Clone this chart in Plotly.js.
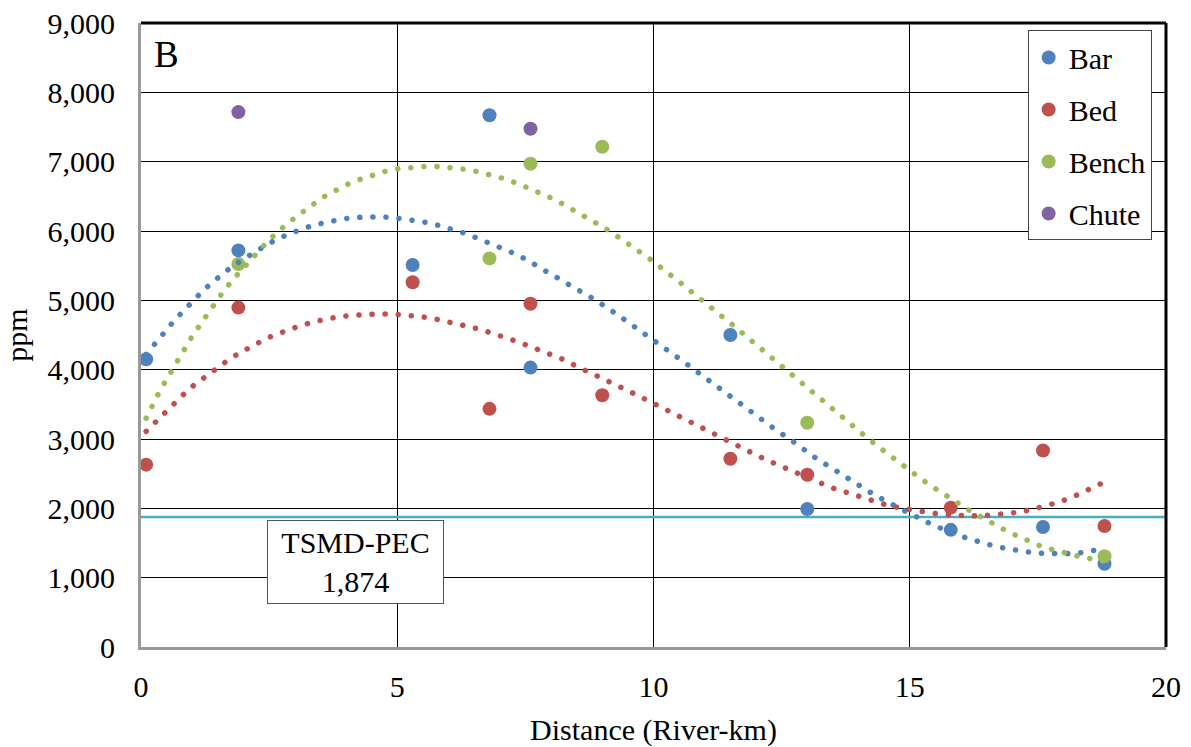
<!DOCTYPE html>
<html><head><meta charset="utf-8">
<script src="https://cdn.plot.ly/plotly-3.0.1.min.js"></script>
<style>html,body{margin:0;padding:0;background:#fff}#chart{width:1191px;height:747px}
.scatterlayer .trace .js-line{stroke-linecap:round}</style>
</head><body><div id="chart"></div><script>
// ---- data ----
const distBar = [0.1, 1.9, 5.3, 6.8, 7.6, 11.5, 13.0, 15.8, 17.6, 18.8];
const ppmBar  = [4150, 5720, 5510, 7670, 4030, 4500, 1990, 1690, 1730, 1200];

const distBed = [0.1, 1.9, 5.3, 6.8, 7.6, 9.0, 11.5, 13.0, 15.8, 17.6, 18.8];
const ppmBed  = [2630, 4895, 5260, 3435, 4950, 3630, 2715, 2485, 2010, 2835, 1745];

const distBench = [1.9, 6.8, 7.6, 9.0, 13.0, 18.8];
const ppmBench  = [5525, 5605, 6970, 7215, 3235, 1310];

const distChute = [1.9, 7.6];
const ppmChute  = [7715, 7475];

// dotted polynomial trendlines
const trendBarX = [0.1,0.26,0.43,0.60,0.78,0.96,1.15,1.34,1.55,1.75,1.98,2.20,2.43,2.65,2.90,3.15,3.40,3.66,3.92,4.18,4.45,4.71,4.98,5.24,5.50,5.76,6.02,6.27,6.51,6.77,7.01,7.25,7.49,7.72,7.95,8.18,8.41,8.86,9.30,9.74,10.17,10.60,11.02,11.45,11.87,12.30,12.74,13.17,13.62,13.84,14.29,14.76,15.24,15.46,15.97,16.22,16.47,16.73,16.99,17.25,17.52,17.78,18.04,18.31,18.57,18.8];
const trendBarY = [4220,4368,4517,4665,4810,4954,5094,5228,5354,5473,5584,5695,5791,5883,5960,6032,6089,6133,6172,6195,6205,6205,6186,6166,6133,6090,6042,5979,5912,5840,5768,5686,5599,5502,5411,5310,5209,5007,4791,4564,4333,4108,3877,3636,3410,3179,2954,2723,2515,2410,2203,2016,1833,1756,1606,1544,1491,1443,1404,1375,1352,1342,1346,1356,1385,1420];

const trendBedX = [0.1,0.46,0.65,0.84,1.04,1.25,1.46,1.68,1.90,2.13,2.37,2.61,2.86,3.10,3.36,3.62,3.88,4.14,4.40,4.67,4.94,5.21,5.46,5.73,5.99,6.25,6.50,6.75,7.01,7.26,7.51,7.76,8.00,8.25,8.48,8.73,8.97,9.20,9.44,9.68,9.91,10.15,10.39,10.63,10.86,11.10,11.34,11.57,11.82,12.05,12.29,12.54,12.78,13.27,13.51,13.76,14.01,14.27,14.53,14.78,15.04,15.30,15.56,15.83,16.10,16.36,16.63,16.88,17.15,17.41,17.67,17.92,18.17,18.41,18.65,18.8];
const trendBedY = [3110,3381,3516,3651,3781,3900,4016,4127,4232,4333,4420,4502,4574,4632,4690,4729,4766,4786,4801,4805,4801,4786,4766,4733,4694,4656,4603,4550,4492,4426,4358,4286,4214,4145,4055,3973,3892,3805,3719,3632,3545,3453,3362,3276,3185,3098,3012,2919,2833,2752,2670,2587,2506,2362,2290,2227,2165,2111,2053,2010,1973,1944,1917,1900,1892,1890,1905,1924,1948,1987,2035,2092,2160,2241,2328,2380];

const trendBenchX = [0.1,0.22,0.34,0.47,0.60,0.74,0.88,1.01,1.16,1.31,1.47,1.62,1.79,1.96,2.14,2.32,2.50,2.70,2.90,3.54,3.77,4.01,4.25,4.50,4.76,5.02,5.28,5.55,5.81,6.07,6.34,6.60,6.86,7.11,7.36,7.61,7.85,8.09,8.32,8.55,8.78,9.01,9.23,9.45,9.66,9.89,10.52,10.73,10.93,11.14,11.34,11.55,11.75,11.95,12.15,12.36,12.56,12.76,12.96,13.17,13.37,13.57,13.78,13.98,14.20,14.40,14.61,14.82,15.03,15.24,15.46,15.68,15.91,16.14,16.36,16.59,16.83,17.07,17.31,17.55,17.81,18.06,18.32,18.58,18.8];
const trendBenchY = [3300,3488,3655,3824,3997,4166,4333,4497,4657,4824,4983,5141,5296,5440,5594,5733,5873,6007,6133,6483,6580,6667,6739,6807,6859,6898,6922,6931,6931,6912,6888,6850,6801,6749,6681,6609,6527,6446,6354,6258,6162,6061,5955,5840,5729,5618,5257,5137,5017,4892,4766,4642,4517,4387,4262,4137,4007,3882,3752,3626,3496,3372,3251,3127,2997,2882,2760,2645,2525,2414,2304,2193,2088,1981,1890,1789,1698,1612,1534,1457,1400,1346,1303,1266,1235];

const pecLabel = 'TSMD-PEC';
const pecValue = 1874;
const xRange = [0, 20];
const yRange = [0, 9000];
const panelLabel = 'B';
const xTitle = 'Distance (River-km)';
const yTitle = 'ppm';

// ---- styling ----
const C = {bar:'#4F81BD', bed:'#C0504D', bench:'#9BBB59', chute:'#8064A2', pec:'#4BACC6'};
const FONT = '"Liberation Serif", serif';
const MS = 14;
const DOTS = '0.1px,13px';

const traces = [
  {x: xRange, y: [pecValue, pecValue], mode:'lines', line:{color:C.pec, width:2.5}, showlegend:false, hoverinfo:'skip'},
  {x: distBar, y: ppmBar, name:'Bar', mode:'markers', marker:{color:C.bar, size:MS}, legendgroup:'a'},
  {x: distBed, y: ppmBed, name:'Bed', mode:'markers', marker:{color:C.bed, size:MS}, legendgroup:'b'},
  {x: distBench, y: ppmBench, name:'Bench', mode:'markers', marker:{color:C.bench, size:MS}, legendgroup:'c'},
  {x: distChute, y: ppmChute, name:'Chute', mode:'markers', marker:{color:C.chute, size:MS}, legendgroup:'d'},
  {x: trendBarX, y: trendBarY, mode:'lines', line:{color:C.bar, width:5.5, dash:DOTS}, showlegend:false},
  {x: trendBedX, y: trendBedY, mode:'lines', line:{color:C.bed, width:5.5, dash:DOTS}, showlegend:false},
  {x: trendBenchX, y: trendBenchY, mode:'lines', line:{color:C.bench, width:5.5, dash:DOTS}, showlegend:false}
];

const axisCommon = {
  showgrid:true, gridcolor:'#000', gridwidth:1, zeroline:false,
  showline:true, linecolor:'#999', linewidth:3,
  ticks:'outside', tickcolor:'rgba(0,0,0,0)',
  tickfont:{family:FONT, size:30, color:'#000'}
};

const layout = {
  width:1191, height:747,
  margin:{l:141, r:25, t:23, b:100},
  paper_bgcolor:'#fff', plot_bgcolor:'#fff',
  font:{family:FONT, size:30, color:'#000'},
  xaxis: Object.assign({}, axisCommon, {
    range:xRange, dtick:5, tick0:0, ticklen:11,
    title:{text:xTitle, font:{family:FONT, size:30}, standoff:22}
  }),
  yaxis: Object.assign({}, axisCommon, {
    range:yRange, dtick:1000, tick0:0, ticklen:17, tickformat:',d',
    title:{text:yTitle, font:{family:FONT, size:30}, standoff:13}
  }),
  legend:{x:0.865, y:0.988, xanchor:'left', yanchor:'top',
    bgcolor:'#fff', bordercolor:'#444', borderwidth:1,
    font:{family:FONT, size:30, color:'#000'},
    traceorder:'grouped', tracegroupgap:10, itemsizing:'trace'},
  shapes:[
    {type:'line', xref:'paper', yref:'paper', x0:0, x1:1, y0:1, y1:1, line:{color:'#000', width:3}},
    {type:'line', xref:'paper', yref:'paper', x0:1, x1:1, y0:0, y1:1, line:{color:'#000', width:3}}
  ],
  annotations:[
    {x:4.18, y:1233, xref:'x', yref:'y', text: pecLabel + '<br>' + pecValue.toLocaleString('en-US'),
     showarrow:false, bgcolor:'#fff', bordercolor:'#555', borderwidth:1, borderpad:2,
     width:171, height:78, font:{family:FONT, size:30, color:'#000'}},
    {x:0.0105, y:0.949, xref:'paper', yref:'paper', xanchor:'left', yanchor:'middle',
     text:panelLabel, showarrow:false, font:{family:FONT, size:37, color:'#000'}}
  ],
  showlegend:true
};

Plotly.newPlot('chart', traces, layout, {displayModeBar:false, staticPlot:true});
</script></body></html>
